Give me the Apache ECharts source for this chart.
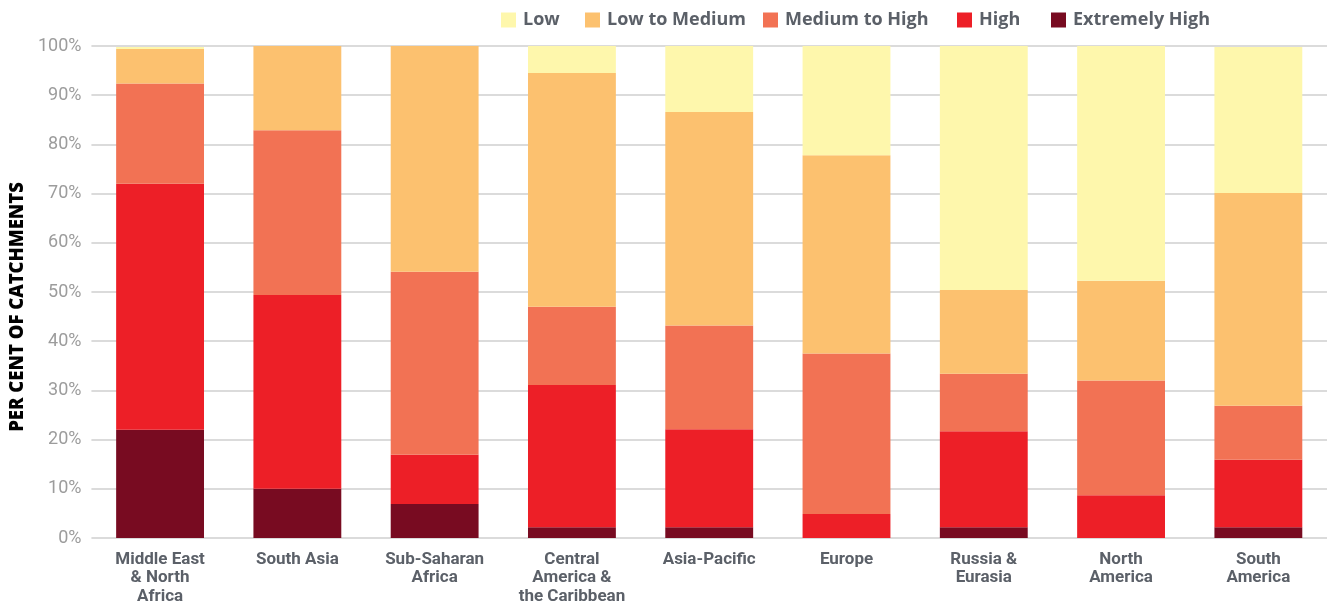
<!DOCTYPE html>
<html>
<head>
<meta charset="utf-8">
<script src="https://cdn.jsdelivr.net/npm/echarts@6/dist/echarts.min.js"></script>
<style>
html,body{margin:0;padding:0;background:#fff;}
#c{width:1330px;height:608px;}
</style>
</head>
<body>
<div id="c"></div>
<script>
const categories = ["Middle East\n& North\nAfrica","South Asia","Sub-Saharan\nAfrica","Central\nAmerica &\nthe Caribbean","Asia-Pacific","Europe","Russia &\nEurasia","North\nAmerica","South\nAmerica"];
const extremelyHigh = [22.0, 10.0, 6.9, 2.2, 2.2, 0, 2.2, 0, 2.2];
const high          = [50.0, 39.4, 10.0, 28.9, 19.9, 4.9, 19.5, 8.7, 13.7];
const mediumToHigh  = [20.4, 33.5, 37.2, 15.9, 21.1, 32.6, 11.7, 23.3, 11.0];
const lowToMedium   = [7.0, 17.1, 45.9, 47.5, 43.4, 40.3, 17.0, 20.3, 43.2];
const low           = [0.4, 0, 0, 5.5, 13.4, 22.2, 49.6, 47.7, 29.7];
const yTicks = [0,10,20,30,40,50,60,70,80,90,100];
const legendNames = ["Low","Low to Medium","Medium to High","High","Extremely High"];

const colors = {
  "Low":"#FEF7AC",
  "Low to Medium":"#FCC16F",
  "Medium to High":"#F27254",
  "High":"#ED1F27",
  "Extremely High":"#780B21"
};
const font = "Roboto, 'Liberation Sans', sans-serif";
const legendFont = "'Open Sans', Roboto, sans-serif";
const textGrey = "#5B6068";
const legendLefts = [501, 585, 763, 957, 1051];

const chart = echarts.init(document.getElementById('c'), null, {renderer:'canvas'});
function s(name, data){
  return {name, type:'bar', stack:'all', data, barWidth:'64%',
    itemStyle:{color:colors[name]}, emphasis:{disabled:true}};
}
chart.setOption({
  animation:false,
  textStyle:{fontFamily:font},
  legend: legendNames.map((n,i)=>({
    top:11, left:legendLefts[i], padding:0,
    itemWidth:15, itemHeight:15,
    icon:'rect', selectedMode:false,
    data:[n],
    textStyle:{color:textGrey, fontSize:18, fontWeight:'bold', fontFamily:legendFont, padding:[0,0,0,2]}
  })),
  grid:{left:90, right:3, top:46, bottom:70},
  xAxis:{
    type:'category', data:categories,
    axisLine:{show:false}, axisTick:{show:false},
    axisLabel:{color:textGrey, fontSize:17, fontWeight:'bold', lineHeight:18.5, margin:12, interval:0, fontFamily:font}
  },
  yAxis:{
    type:'value', min:0, max:100, interval:10,
    name:'PER CENT OF CATCHMENTS', nameLocation:'middle', nameGap:62, nameRotate:90,
    nameTextStyle:{color:'#000', fontSize:18.5, fontWeight:800, fontFamily:legendFont, padding:[0,30,0,0]},
    axisLabel:{formatter:'{value}%', color:'#9C9C9C', fontSize:18, margin:10, fontFamily:font,
      customValues:yTicks},
    axisLine:{show:false}, axisTick:{show:false},
    splitLine:{lineStyle:{color:'#CFCFCF', width:1.5}}
  },
  series:[
    s("Extremely High", extremelyHigh),
    s("High", high),
    s("Medium to High", mediumToHigh),
    s("Low to Medium", lowToMedium),
    s("Low", low)
  ]
});
</script>
</body>
</html>
